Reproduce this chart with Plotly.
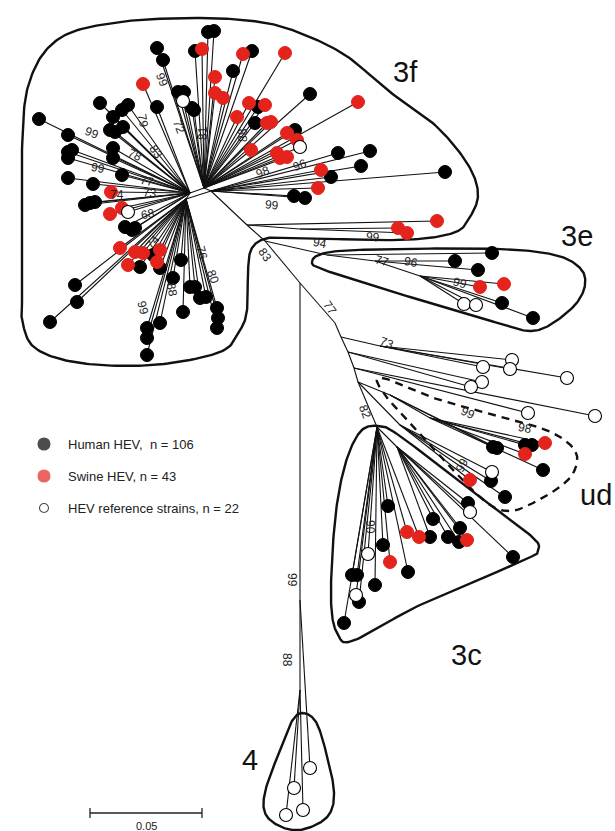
import numpy as np
import plotly.graph_objects as go

# ---------------- data ----------------
# internal tree nodes (name, x, y, parent) in picture units
node_name = ["H1", "H2", "H3", "H4", "N1", "F99", "N2", "J", "N3", "R1", "RA", "R2", "R3", "U",
             "UA", "UB", "UC", "C", "C2", "E0", "E1", "E2", "G1", "G2"]
node_x = [190, 204, 211, 186, 247, 300, 265, 300, 335, 341, 380, 348, 354, 358,
          390, 430, 400, 377, 397, 327, 375, 420, 300, 300]
node_y = [193, 188, 191, 199, 225, 229, 241, 283, 323, 337, 346, 352, 368, 382,
          395, 418, 425, 427, 447, 255, 261, 276, 600, 690]
node_parent = [None, "H1", "H2", "H1", "H3", "N1", "N1", "N2", "J", "N3", "R1", "R1", "R2", "R3",
               "U", "UA", "U", "U", "C", "N2", "E0", "E1", "J", "G1"]

# leaves: x, y, type (0 human, 1 swine, 2 reference), parent node
leaf_x = [
    # 3f upper
    208, 214, 157, 163, 195, 202, 243, 252, 285, 233, 215, 178, 184, 183, 192, 194, 215, 223,
    249, 258, 265, 237, 255, 267, 271, 157, 143,
    # 3f upper right
    310, 358, 295, 287, 297, 300, 251, 277, 280, 287, 338, 370, 361, 321, 331, 445, 318, 294, 305,
    437, 398, 407,
    # 3f left
    39, 100, 113, 122, 128, 123, 115, 110, 68, 68, 68, 72, 113, 113, 68, 93, 122, 111, 85, 90, 95,
    122, 110, 128, 125, 132, 135,
    # 3f lower
    120, 135, 143, 160, 153, 157, 128, 140, 160, 75, 77, 50, 181, 173, 190, 195, 183, 200, 206,
    217, 218, 217, 160, 147, 147, 147,
    # 3e
    492, 455, 478, 480, 504, 464, 476, 502, 533,
    # reference strains between 3e and ud
    512, 510, 483, 567, 482, 471, 595, 528,
    # ud
    493, 497, 525, 532, 545, 525, 543, 492, 491, 470, 505,
    # 3c
    388, 407, 419, 433, 430, 448, 460, 459, 467, 513, 383, 368, 390, 408, 352, 357, 375, 356,
    359, 344, 468, 470,
    # genotype 4
    310, 294, 286, 303,
]
leaf_y = [
    32, 31, 48, 60, 51, 49, 54, 51, 53, 71, 77, 92, 92, 101, 108, 110, 93, 98,
    103, 107, 105, 117, 123, 123, 122, 107, 84,
    94, 102, 130, 133, 140, 147, 150, 153, 158, 157, 153, 151, 166, 170, 177, 172, 188, 196, 198,
    221, 228, 233,
    119, 103, 117, 110, 105, 127, 132, 130, 135, 152, 158, 150, 148, 158, 178, 184, 175, 192, 205,
    203, 202, 208, 214, 212, 227, 230, 228,
    248, 252, 253, 250, 255, 262, 265, 267, 268, 285, 302, 322, 260, 278, 287, 287, 312, 298, 297,
    308, 318, 328, 323, 328, 338, 355,
    253, 261, 270, 287, 284, 304, 305, 303, 318,
    360, 369, 367, 378, 382, 387, 416, 413,
    447, 448, 445, 445, 443, 454, 470, 472, 481, 480, 497,
    506, 532, 537, 519, 537, 537, 528, 542, 540, 557, 545, 554, 562, 572, 575, 575, 585, 595,
    602, 623, 503, 512,
    768, 788, 815, 810,
]
leaf_type = [
    0, 0, 0, 0, 0, 1, 1, 0, 1, 0, 1, 0, 0, 2, 0, 0, 1, 1,
    1, 0, 1, 1, 0, 1, 1, 0, 1,
    0, 1, 0, 1, 1, 2, 1, 1, 1, 1, 0, 0, 0, 1, 0, 0, 1, 0, 0,
    1, 1, 1,
    0, 0, 0, 0, 0, 0, 0, 0, 0, 0, 0, 0, 0, 0, 0, 0, 0, 1, 0,
    0, 0, 1, 1, 2, 0, 0, 0,
    1, 1, 1, 1, 0, 1, 1, 0, 0, 0, 0, 0, 0, 0, 0, 0, 0, 0, 0,
    0, 0, 0, 0, 0, 0, 0,
    0, 0, 0, 1, 1, 2, 2, 0, 0,
    2, 2, 2, 2, 2, 2, 2, 2,
    0, 0, 0, 0, 1, 1, 0, 2, 0, 1, 0,
    0, 1, 1, 0, 0, 0, 0, 0, 1, 0, 0, 2, 1, 0, 0, 0, 0, 2,
    0, 0, 0, 2,
    2, 2, 2, 2,
]
leaf_parent = (
    ["H2"] * 25 + ["H1", "H1"]
    + ["H2", "H2", "H2", "H2", "H2", "H2", "H2", "H2", "H2", "H2", "H3", "H3", "H3", "H3", "H3", "H3",
       "H3", "H3", "H3", "N1", "F99", "F99"]
    + ["H1"] * 27
    + ["H4"] * 26
    + ["E0", "E1", "E1", "E2", "E2", "E2", "E2", "E2", "E2"]
    + ["RA", "RA", "RA", "RA", "R2", "R2", "R3", "R3"]
    + ["UA", "UA", "UB", "UB", "UB", "UB", "UB", "UC", "UC", "UC", "UC"]
    + ["C", "C", "C", "C2", "C2", "C2", "C2", "C2", "C2", "C2", "C", "C", "C", "C", "C", "C", "C", "C",
       "C", "C", "C2", "C2"]
    + ["G1", "G2", "G2", "G2"]
)

# bootstrap support labels
boot_text = ["99", "79", "72", "81", "88", "99", "78", "83", "99", "77", "73", "74", "68", "74",
             "76", "80", "88", "99", "98", "96", "99", "99", "94", "83", "77", "96", "99",
             "77", "73", "82", "99", "98", "99", "90", "99", "88"]
boot_x = [162, 143, 179, 203, 243, 92, 135, 156, 98, 147, 150, 117, 148, 153,
          202, 213, 172, 143, 263, 300, 272, 373, 320, 265, 382, 411, 460,
          330, 387, 365, 468, 525, 462, 370, 292, 287]
boot_y = [80, 121, 127, 133, 135, 133, 155, 152, 168, 181, 193, 195, 214, 242,
          253, 277, 290, 308, 172, 165, 205, 237, 243, 255, 261, 262, 283,
          308, 343, 412, 413, 428, 465, 527, 580, 660]
boot_angle = [70, 80, 70, -90, -90, 20, 25, 55, 10, 10, 5, 0, -10, -50,
              75, 70, 80, 75, -20, -20, 5, 5, 10, 55, 15, 10, 15,
              55, 20, 70, 25, 10, -65, 90, 90, 90]

# cluster outlines (vertices, smoothed)
hull_3f_x = [22, 22, 30, 60, 120, 200, 260, 300, 345, 390, 435, 467, 478, 470, 453, 400, 300,
             268, 252, 248, 247, 240, 220, 153, 80, 35, 22]
hull_3f_y = [300, 150, 80, 38, 22, 18, 22, 33, 55, 92, 125, 163, 193, 217, 233, 240, 238,
             238, 248, 270, 310, 330, 352, 365, 363, 348, 320]
hull_3e_x = [312, 330, 400, 500, 555, 580, 585, 575, 550, 530, 505, 420, 330]
hull_3e_y = [262, 252, 249, 249, 255, 268, 285, 305, 325, 331, 325, 300, 272]
hull_3c_x = [378, 400, 470, 530, 538, 522, 420, 355, 338, 331, 335, 345, 360]
hull_3c_y = [426, 436, 490, 535, 550, 561, 605, 640, 635, 600, 520, 465, 432]
hull_ud_x = [382, 440, 525, 560, 577, 568, 535, 507, 480, 430, 385]
hull_ud_y = [378, 400, 423, 437, 456, 480, 502, 511, 497, 445, 395]
hull_4_x = [303, 316, 326, 334, 328, 305, 284, 266, 265, 280, 292]
hull_4_y = [713, 722, 752, 792, 816, 829, 828, 815, 792, 750, 721]

clade_text = ["3f", "3e", "ud", "3c", "4"]
clade_x = [405, 577, 596, 466, 250]
clade_y = [72, 236, 495, 655, 760]

legend_text = ["Human HEV,  n = 106", "Swine HEV, n = 43", "HEV reference strains, n = 22"]
legend_y = [444, 476, 508]

scale_value = "0.05"
scale_x = [90, 202]
scale_y = 813

# ---------------- drawing ----------------
RED = "#e4231c"
FONT = "Liberation Sans, Arial, sans-serif"
W, H = 615, 831


def smooth_closed(xs, ys, n=20):
    p = np.column_stack([xs, ys]).astype(float)
    m = len(p)
    out = []
    for i in range(m):
        p0, p1, p2, p3 = p[(i - 1) % m], p[i], p[(i + 1) % m], p[(i + 2) % m]
        for t in np.linspace(0, 1, n, endpoint=False):
            t2, t3 = t * t, t * t * t
            pt = 0.5 * ((2 * p1) + (-p0 + p2) * t + (2 * p0 - 5 * p1 + 4 * p2 - p3) * t2
                        + (-p0 + 3 * p1 - 3 * p2 + p3) * t3)
            out.append(pt)
    out.append(out[0])
    out = np.array(out)
    return out[:, 0], out[:, 1]


pos = {n: (x, y) for n, x, y in zip(node_name, node_x, node_y)}
ex, ey = [], []
for n, par in zip(node_name, node_parent):
    if par is not None:
        ex += [pos[par][0], pos[n][0], None]
        ey += [pos[par][1], pos[n][1], None]
for x, y, par in zip(leaf_x, leaf_y, leaf_parent):
    ex += [pos[par][0], x, None]
    ey += [pos[par][1], y, None]
# hub closure
ex += [pos["H4"][0], pos["H3"][0], None]
ey += [pos["H4"][1], pos["H3"][1], None]

fig = go.Figure()
fig.add_trace(go.Scatter(x=ex, y=ey, mode="lines", line=dict(color="#111", width=1.1),
                         hoverinfo="skip", showlegend=False))

for hx, hy, dash in [(hull_3f_x, hull_3f_y, "solid"), (hull_3e_x, hull_3e_y, "solid"),
                     (hull_3c_x, hull_3c_y, "solid"), (hull_4_x, hull_4_y, "solid"),
                     (hull_ud_x, hull_ud_y, "dash")]:
    sx, sy = smooth_closed(hx, hy)
    fig.add_trace(go.Scatter(x=sx, y=sy, mode="lines",
                             line=dict(color="#111", width=2.4, dash="solid" if dash == "solid" else "8px,6px"),
                             hoverinfo="skip", showlegend=False))

styles = {0: dict(color="#000", line=dict(color="#000", width=1)),
          1: dict(color=RED, line=dict(color=RED, width=1)),
          2: dict(color="#fff", line=dict(color="#000", width=1.1))}
for t in [0, 1, 2]:
    xs = [x for x, tt in zip(leaf_x, leaf_type) if tt == t]
    ys = [y for y, tt in zip(leaf_y, leaf_type) if tt == t]
    fig.add_trace(go.Scatter(x=xs, y=ys, mode="markers",
                             marker=dict(size=13, **styles[t]), showlegend=False))

# legend
fig.add_trace(go.Scatter(x=[44, 44, 44], y=legend_y, mode="markers",
                         marker=dict(size=[12, 12, 9], color=["#000", RED, "#fff"],
                                     line=dict(color=["#000", RED, "#000"], width=1.1)),
                         showlegend=False))
for txt, y in zip(legend_text, legend_y):
    fig.add_annotation(x=66, y=y, text=txt, showarrow=False, xanchor="left", yanchor="middle",
                       font=dict(family=FONT, size=13, color="#222"))

for txt, x, y, a in zip(boot_text, boot_x, boot_y, boot_angle):
    fig.add_annotation(x=x, y=y, text=txt, showarrow=False, textangle=a,
                       font=dict(family=FONT, size=12, color="#222"))

for txt, x, y in zip(clade_text, clade_x, clade_y):
    fig.add_annotation(x=x, y=y, text=txt, showarrow=False,
                       font=dict(family=FONT, size=29, color="#111"))

# scale bar
fig.add_trace(go.Scatter(x=[scale_x[0], scale_x[1], None, scale_x[0], scale_x[0], None, scale_x[1], scale_x[1]],
                         y=[scale_y, scale_y, None, scale_y - 5, scale_y + 5, None, scale_y - 5, scale_y + 5],
                         mode="lines", line=dict(color="#222", width=1.3), showlegend=False,
                         hoverinfo="skip"))
fig.add_annotation(x=(scale_x[0] + scale_x[1]) / 2, y=scale_y + 13, text=scale_value, showarrow=False,
                   font=dict(family=FONT, size=11, color="#222"))

fig.update_layout(width=W, height=H, margin=dict(l=0, r=0, t=0, b=0),
                  paper_bgcolor="white", plot_bgcolor="white", hovermode=False,
                  xaxis=dict(range=[0, W], visible=False, fixedrange=True),
                  yaxis=dict(range=[H, 0], visible=False, fixedrange=True))
fig.write_html("out.html", config={"displayModeBar": False, "staticPlot": True},
               post_script="document.body.style.margin='0px';document.body.style.overflow='hidden';")
